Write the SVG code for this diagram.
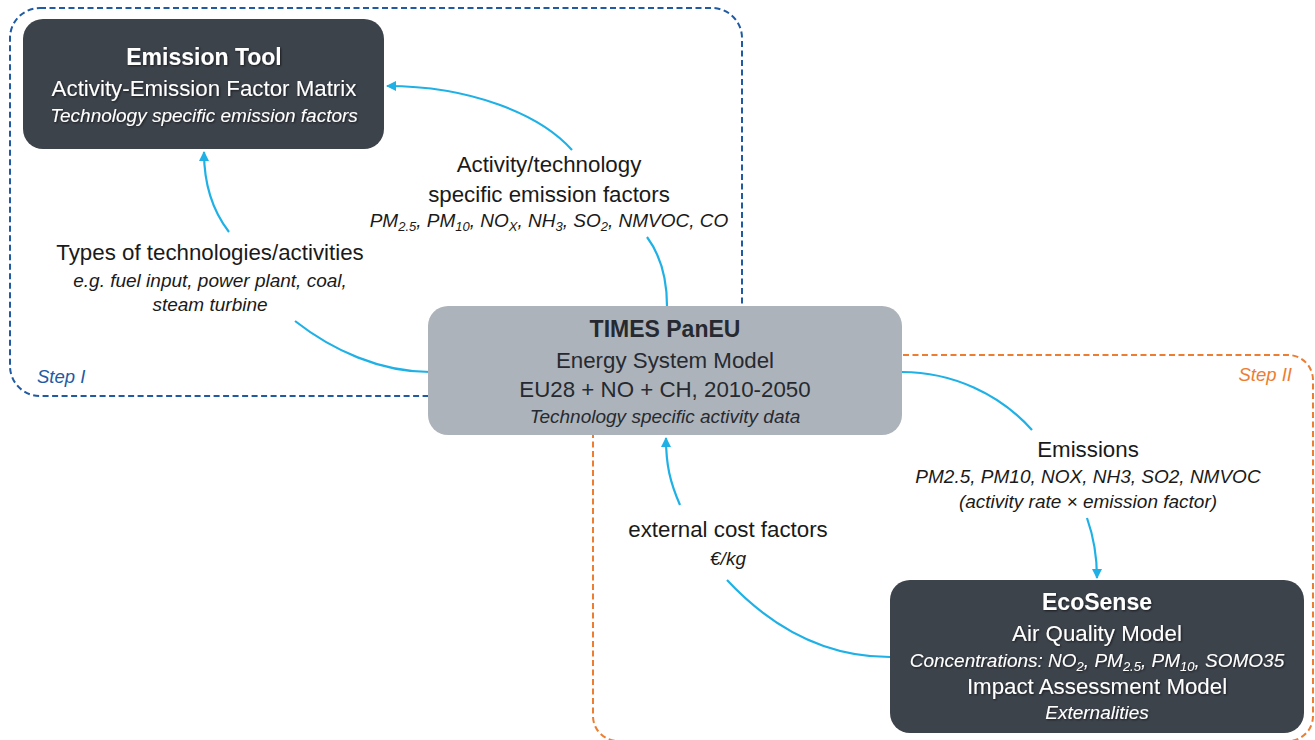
<svg xmlns="http://www.w3.org/2000/svg" width="1315" height="740" viewBox="0 0 1315 740">
  <style>
    text { font-family: "Liberation Sans", Arial, sans-serif; text-anchor: middle; }
    .title { font-size: 23px; font-weight: bold; }
    .line { font-size: 22.3px; }
    .ital { font-size: 19px; font-style: italic; }
    .light { fill: #ffffff; }
    .dark { fill: #262a30; }
    .lbl { fill: #1a1a1a; }
    .node-dark { fill: #3d434b; }
    .node-gray { fill: #adb3ba; }
    .conn { fill: none; stroke: #1fb1e6; stroke-width: 2.2; }
    .step1 { fill: none; stroke: #1f5aa3; stroke-width: 2; stroke-dasharray: 6 3.5; }
    .step2 { fill: none; stroke: #ed7d31; stroke-width: 2; stroke-dasharray: 6 3.5; }
    .steplbl { font-size: 18.5px; font-style: italic; }
  </style>
  <defs>
    <marker id="arrow" viewBox="0 0 10 10" refX="9" refY="5" markerWidth="10" markerHeight="10" markerUnits="userSpaceOnUse" orient="auto">
      <path d="M0,0 L10,5 L0,10 z" fill="#1fb1e6"/>
    </marker>
    <filter id="txtShadow" x="-5%" y="-20%" width="110%" height="150%">
      <feDropShadow dx="1" dy="1" stdDeviation="0.8" flood-color="#000000" flood-opacity="0.6"/>
    </filter>
  </defs>

  <!-- step frames -->
  <g id="step-frames">
    <rect class="step1" x="10" y="8" width="732" height="388" rx="30"/>
    <text class="steplbl" x="37" y="383" fill="#1f5aa3" style="text-anchor:start">Step I</text>
    <rect class="step2" x="593" y="355" width="720" height="386" rx="25"/>
    <text class="steplbl" x="1292" y="381" fill="#ed7d31" style="text-anchor:end">Step II</text>
  </g>

  <!-- connectors -->
  <g id="connectors">
    <path class="conn" d="M430,372 C380,372 332,350 295,321"/>
    <path class="conn" d="M229,232 C212,210 204,185 204,152" marker-end="url(#arrow)"/>
    <path class="conn" d="M667,306 C667,278 661,256 647,237"/>
    <path class="conn" d="M572,150 C540,114 470,86 387,86" marker-end="url(#arrow)"/>
    <path class="conn" d="M902,372 C952,372 1000,394 1032,430"/>
    <path class="conn" d="M1087,518 C1093,535 1097,555 1097,578" marker-end="url(#arrow)"/>
    <path class="conn" d="M890,657 C822,657 770,626 727,580"/>
    <path class="conn" d="M680,505 C670,482 666,465 666,438" marker-end="url(#arrow)"/>
  </g>

  <!-- Emission Tool -->
  <g id="emission-tool">
    <rect class="node-dark" x="23" y="19" width="361" height="130" rx="20"/>
    <g class="light" filter="url(#txtShadow)">
      <text class="title" x="204" y="65">Emission Tool</text>
      <text class="line" x="204" y="96">Activity-Emission Factor Matrix</text>
      <text class="ital" x="204" y="122">Technology specific emission factors</text>
    </g>
  </g>

  <!-- TIMES PanEU -->
  <g id="times-paneu">
    <rect class="node-gray" x="428" y="306" width="474" height="129" rx="20"/>
    <g class="dark">
      <text class="title" x="665" y="337">TIMES PanEU</text>
      <text class="line" x="665" y="368">Energy System Model</text>
      <text class="line" x="665" y="397">EU28 + NO + CH, 2010-2050</text>
      <text class="ital" x="665" y="423">Technology specific activity data</text>
    </g>
  </g>

  <!-- EcoSense -->
  <g id="ecosense">
    <rect class="node-dark" x="890" y="580" width="414" height="153" rx="20"/>
    <g class="light" filter="url(#txtShadow)">
      <text class="title" x="1097" y="610">EcoSense</text>
      <text class="line" x="1097" y="641">Air Quality Model</text>
      <text class="ital" x="1097" y="667">Concentrations: NO<tspan font-size="13" dy="4">2</tspan><tspan dy="-4">, PM</tspan><tspan font-size="13" dy="4">2.5</tspan><tspan dy="-4">, PM</tspan><tspan font-size="13" dy="4">10</tspan><tspan dy="-4">, SOMO35</tspan></text>
      <text class="line" x="1097" y="694">Impact Assessment Model</text>
      <text class="ital" x="1097" y="719">Externalities</text>
    </g>
  </g>

  <!-- edge labels -->
  <g id="label-factors" class="lbl">
    <text class="line" x="549" y="172">Activity/technology</text>
    <text class="line" x="549" y="202">specific emission factors</text>
    <text class="ital" x="549" y="227">PM<tspan font-size="13" dy="4">2.5</tspan><tspan dy="-4">, PM</tspan><tspan font-size="13" dy="4">10</tspan><tspan dy="-4">, NO</tspan><tspan font-size="13" dy="4">X</tspan><tspan dy="-4">, NH</tspan><tspan font-size="13" dy="4">3</tspan><tspan dy="-4">, SO</tspan><tspan font-size="13" dy="4">2</tspan><tspan dy="-4">, NMVOC, CO</tspan></text>
  </g>
  <g id="label-types" class="lbl">
    <text class="line" x="210" y="260">Types of technologies/activities</text>
    <text class="ital" x="210" y="287">e.g. fuel input, power plant, coal,</text>
    <text class="ital" x="210" y="311">steam turbine</text>
  </g>
  <g id="label-emissions" class="lbl">
    <text class="line" x="1088" y="457">Emissions</text>
    <text class="ital" x="1088" y="483">PM2.5, PM10, NOX, NH3, SO2, NMVOC</text>
    <text class="ital" x="1088" y="508">(activity rate × emission factor)</text>
  </g>
  <g id="label-costs" class="lbl">
    <text class="line" x="728" y="537">external cost factors</text>
    <text class="ital" x="728" y="565">€/kg</text>
  </g>
</svg>
